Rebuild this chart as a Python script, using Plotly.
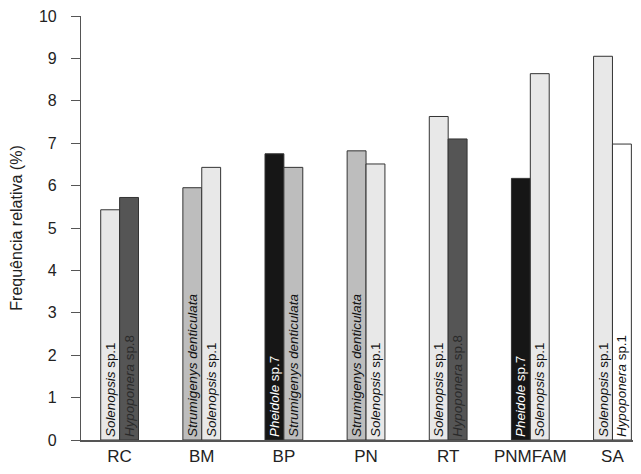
import plotly.graph_objects as go

categories = ["RC", "BM", "BP", "PN", "RT", "PNMFAM", "SA"]

species_a = ["<i>Solenopsis</i> sp.1", "<i>Strumigenys denticulata</i>", "<i>Pheidole</i> sp.7",
             "<i>Strumigenys denticulata</i>", "<i>Solenopsis</i> sp.1", "<i>Pheidole</i> sp.7",
             "<i>Solenopsis</i> sp.1"]
values_a = [5.43, 5.95, 6.75, 6.82, 7.63, 6.17, 9.05]
colors_a = ["#e8e8e8", "#bdbdbd", "#161616", "#bdbdbd", "#e8e8e8", "#161616", "#e8e8e8"]
textcol_a = ["#111", "#111", "#fff", "#111", "#111", "#fff", "#111"]

species_b = ["<i>Hypoponera</i> sp.8", "<i>Solenopsis</i> sp.1", "<i>Strumigenys denticulata</i>",
             "<i>Solenopsis</i> sp.1", "<i>Hypoponera</i> sp.8", "<i>Solenopsis</i> sp.1",
             "<i>Hypoponera</i> sp.1"]
values_b = [5.72, 6.43, 6.43, 6.51, 7.1, 8.64, 6.98]
colors_b = ["#555555", "#e8e8e8", "#bdbdbd", "#e8e8e8", "#555555", "#e8e8e8", "#ffffff"]
textcol_b = ["#2a2a2a", "#111", "#111", "#111", "#2a2a2a", "#111", "#111"]

fig = go.Figure()
for vals, cols, texts, tcols in [(values_a, colors_a, species_a, textcol_a),
                                 (values_b, colors_b, species_b, textcol_b)]:
    fig.add_trace(go.Bar(
        x=categories, y=vals, text=texts,
        marker=dict(color=cols, line=dict(color="#333333", width=1)),
        textposition="inside", insidetextanchor="start", textangle=-90,
        constraintext="none",
        textfont=dict(family="Liberation Sans, Arial, sans-serif", size=13.4, color=tcols),
        showlegend=False, hoverinfo="skip",
    ))

fig.update_layout(
    width=625, height=458,
    margin=dict(l=73, r=0, t=8, b=26),
    showlegend=False,
    paper_bgcolor="white", plot_bgcolor="white",
    barmode="group", bargap=0.54, bargroupgap=0,
    font=dict(family="Liberation Sans, Arial, sans-serif", size=16, color="#222"),
    xaxis=dict(range=[-0.47, 6.25], showline=True, linecolor="#555", linewidth=1.5,
               ticks="", showgrid=False, zeroline=False, automargin=False,
               tickfont=dict(size=17, color="#222")),
    yaxis=dict(range=[0, 10], dtick=1, showline=True, linecolor="#555", linewidth=1.2,
               ticks="outside", ticklen=9, tickcolor="#555", showgrid=False, zeroline=False,
               automargin=False, ticklabelstandoff=11, ticklabeloverflow="allow",
               tickfont=dict(size=16, color="#222"),
               title=dict(text="Frequência relativa (%)", font=dict(size=16, color="#222"),
                          standoff=12)),
)

fig.write_html("out.html")
